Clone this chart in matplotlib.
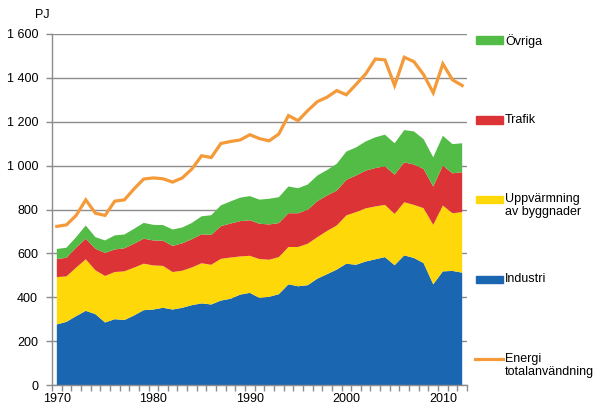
import matplotlib
matplotlib.use("Agg")
import matplotlib.pyplot as plt
from matplotlib.patches import Rectangle
from matplotlib.lines import Line2D
from matplotlib.ticker import FuncFormatter, MultipleLocator
import numpy as np

years = list(range(1970, 2013))

industri = [276, 288, 314, 338, 323, 285, 300, 296, 317, 341, 344, 352, 344, 352, 364,
            372, 367, 385, 393, 412, 420, 397, 402, 414, 459, 450, 455, 485, 505, 526,
            553, 548, 563, 573, 583, 546, 591, 579, 556, 459, 518, 520, 512]
uppvarmning = [216, 207, 221, 235, 200, 212, 215, 222, 218, 212, 201, 191, 171, 169, 172,
               183, 181, 190, 188, 174, 169, 177, 169, 169, 170, 179, 189, 189, 197, 201,
               220, 240, 242, 241, 238, 234, 242, 242, 250, 271, 300, 263, 276]
trafik = [82, 85, 91, 94, 98, 105, 103, 105, 109, 114, 114, 115, 119, 125, 129,
          132, 136, 149, 155, 161, 162, 161, 161, 155, 154, 154, 155, 164, 162, 159,
          162, 167, 172, 175, 176, 179, 182, 184, 179, 175, 182, 182, 182]
ovriga = [46, 46, 48, 60, 53, 57, 64, 63, 68, 72, 71, 71, 75, 72, 74,
          82, 90, 95, 101, 107, 110, 110, 117, 118, 122, 114, 115, 117, 116, 122,
          129, 128, 133, 140, 144, 143, 147, 151, 136, 133, 136, 133, 132]
totalanvandning = [723, 730, 773, 844, 783, 773, 838, 844, 894, 939, 944, 940, 925, 944, 985,
                   1045, 1037, 1101, 1110, 1117, 1141, 1123, 1113, 1144, 1228, 1205, 1251, 1292, 1312, 1342,
                   1323, 1370, 1418, 1486, 1482, 1365, 1494, 1474, 1415, 1332, 1464, 1391, 1365]

series_labels = ["Industri", "Uppvärmning\nav byggnader", "Trafik", "Övriga"]
line_label = "Energi\ntotalanvändning"
y_unit = "PJ"

c_blue = "#1B66B1"
c_yellow = "#FFD80A"
c_red = "#DC3436"
c_green = "#53BC46"
c_orange = "#F59A38"
grid_c = "#8C8C8C"

plt.rcParams['font.family'] = ['Liberation Sans', 'DejaVu Sans']
plt.rcParams['font.size'] = 9

fig = plt.figure(figsize=(6.07, 4.18), dpi=100)
ax = fig.add_axes([52/607, 1-385/418, (467-52)/607, (385-34)/418])

x = np.arange(len(years))
ax.stackplot(x, industri, uppvarmning, trafik, ovriga,
             colors=[c_blue, c_yellow, c_red, c_green], linewidth=0, zorder=2)
ax.plot(x, totalanvandning, color=c_orange, lw=2.3, zorder=3, solid_joinstyle='miter')

ax.set_xlim(-0.5, len(years) - 0.5)
ax.set_ylim(0, 1600)
ax.yaxis.set_major_locator(MultipleLocator(200))
ax.yaxis.set_major_formatter(FuncFormatter(lambda v, p: f"{int(v):,}".replace(",", " ")))
ax.grid(axis='y', color=grid_c, lw=1, zorder=1)
ax.set_axisbelow(True)

label_idx = [i for i, y in enumerate(years) if y % 10 == 0]
ax.set_xticks(label_idx)
ax.set_xticklabels([str(years[i]) for i in label_idx])
ax.set_xticks(np.arange(-0.5, len(years)), minor=True)
ax.tick_params(axis='x', which='major', length=0, pad=6, labelsize=9)
ax.tick_params(axis='x', which='minor', length=4, color=grid_c, width=1)
ax.tick_params(axis='y', length=4, color=grid_c, width=1, pad=6, labelsize=9)

for s in ['top', 'right']:
    ax.spines[s].set_visible(False)
for s in ['left', 'bottom']:
    ax.spines[s].set_color(grid_c)
    ax.spines[s].set_linewidth(1)

fig.text(35/607, 1-15/418, y_unit, ha='left', va='center', fontsize=9)

# legend (manual, right side)
W, H = 607, 418
legend_items = [
    (series_labels[3], c_green, 40, 'patch'),
    (series_labels[2], c_red, 120, 'patch'),
    (series_labels[1], c_yellow, 199, 'patch'),
    (series_labels[0], c_blue, 279, 'patch'),
    (line_label, c_orange, 359, 'line'),
]
for lab, col, yc, kind in legend_items:
    if kind == 'patch':
        fig.patches.append(Rectangle((476/W, 1-(yc+3.5)/H), 27/W, 7/H,
                                     transform=fig.transFigure, color=col))
    else:
        fig.lines.append(Line2D([475/W, 503/W], [1-yc/H, 1-yc/H],
                                transform=fig.transFigure, color=col, lw=2.3))
    fig.text(505/W, 1-(yc-6)/H, lab, ha='left', va='top', fontsize=9, linespacing=1.15)

fig.savefig("out.png", dpi=100)
